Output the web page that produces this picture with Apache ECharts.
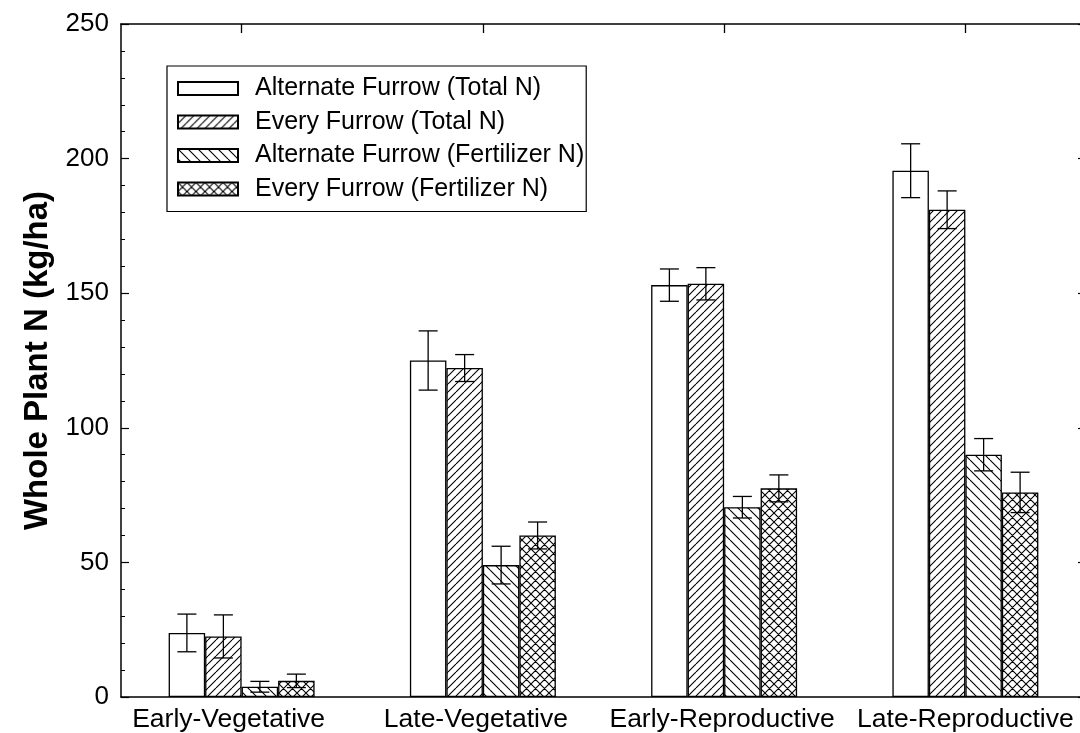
<!DOCTYPE html>
<html>
<head>
<meta charset="utf-8">
<script src="https://cdn.jsdelivr.net/npm/echarts@6/dist/echarts.min.js"></script>
<style>
html,body{margin:0;padding:0;background:#fff;overflow:hidden;}
#chart{width:1090px;height:733px;}
</style>
</head>
<body>
<div id="chart"></div>
<script>
// ---- data ----
const categories = ['Early-Vegetative', 'Late-Vegetative', 'Early-Reproductive', 'Late-Reproductive'];
const seriesNames = ['Alternate Furrow (Total N)', 'Every Furrow (Total N)', 'Alternate Furrow (Fertilizer N)', 'Every Furrow (Fertilizer N)'];
const altTotal = [23.8, 125, 153, 195.5];
const everyTotal = [22.5, 122.2, 153.5, 181];
const altFert = [3.8, 49, 70.5, 90];
const everyFert = [6, 60, 77.5, 76];
const errAltTotal = [7, 11, 6, 10];
const errEveryTotal = [8, 5, 6, 7];
const errAltFert = [2, 7, 4, 6];
const errEveryFert = [2.5, 5, 5, 7.5];
const yTicks = [0, 50, 100, 150, 200, 250];

const values = [altTotal, everyTotal, altFert, everyFert];
const errors = [errAltTotal, errEveryTotal, errAltFert, errEveryFert];

const FONT = "'Liberation Sans', Arial, sans-serif";
const GAP = 0.395;
// small leftward nudges of the category labels (style only)
const labelNudge = [13, 7, 2, 0];

function hatch(size, dirs, lw) {
  const c = document.createElement('canvas');
  c.width = size; c.height = size;
  const g = c.getContext('2d');
  g.fillStyle = '#fff'; g.fillRect(0, 0, size, size);
  g.strokeStyle = '#000'; g.lineWidth = lw;
  g.beginPath();
  dirs.forEach(function (d) {
    [-size, 0, size].forEach(function (o) {
      if (d === '/') { g.moveTo(o, size); g.lineTo(o + size, 0); }
      else { g.moveTo(o, 0); g.lineTo(o + size, size); }
    });
  });
  g.stroke();
  return c;
}

const fills = [
  '#ffffff',
  { image: hatch(8, ['/'], 1.1), repeat: 'repeat' },
  { image: hatch(10, ['\\'], 1.1), repeat: 'repeat' },
  { image: hatch(9, ['/', '\\'], 1.1), repeat: 'repeat' }
];

const barSeries = seriesNames.map(function (name, i) {
  return {
    name: name,
    type: 'bar',
    data: values[i],
    barGap: '0%',
    barCategoryGap: (GAP * 100) + '%',
    itemStyle: { color: fills[i], borderColor: '#000', borderWidth: 1.3 },
    emphasis: { disabled: true },
    z: 2
  };
});

const errData = [];
values.forEach(function (arr, s) {
  arr.forEach(function (v, c) { errData.push([c, v, errors[s][c], s]); });
});

const errSeries = {
  type: 'custom',
  name: 'err',
  data: errData,
  encode: { x: 0, y: 1 },
  z: 5,
  silent: true,
  renderItem: function (params, api) {
    const c = api.value(0), v = api.value(1), e = api.value(2), s = api.value(3);
    const band = api.size([1, 0])[0];
    const bw = band * (1 - GAP) / 4;
    const x = api.coord([c, v])[0] + (s - 1.5) * bw;
    const yt = api.coord([c, v + e])[1];
    const yb = api.coord([c, v - e])[1];
    const hw = 9.5;
    const st = { stroke: '#000', lineWidth: 1.3 };
    return {
      type: 'group',
      children: [
        { type: 'line', shape: { x1: x, y1: yt, x2: x, y2: yb }, style: st },
        { type: 'line', shape: { x1: x - hw, y1: yt, x2: x + hw, y2: yt }, style: st },
        { type: 'line', shape: { x1: x - hw, y1: yb, x2: x + hw, y2: yb }, style: st }
      ]
    };
  }
};

const rich = {};
labelNudge.forEach(function (n, i) {
  rich['c' + i] = { fontFamily: FONT, fontSize: 26.5, color: '#000', padding: [0, 2 * n, 0, 0] };
});

const chart = echarts.init(document.getElementById('chart'), null, { renderer: 'canvas' });
chart.setOption({
  backgroundColor: '#fff',
  animation: false,
  textStyle: { fontFamily: FONT, color: '#000' },
  grid: { left: 121, top: 24, width: 965, height: 674, containLabel: false },
  legend: {
    data: seriesNames,
    orient: 'vertical',
    left: 167, top: 66,
    backgroundColor: '#fff',
    borderColor: '#000', borderWidth: 1.2, borderRadius: 0,
    padding: [10, 2, 10, 10],
    itemWidth: 60, itemHeight: 13, itemGap: 8.5,
    icon: 'rect',
    selectedMode: false,
    textStyle: { fontFamily: FONT, fontSize: 25, color: '#000', padding: [0, 0, 0, 12] }
  },
  xAxis: [
    {
      type: 'category', data: categories, position: 'bottom',
      axisLine: { onZero: false, lineStyle: { color: '#000', width: 1.5 } },
      axisTick: { show: false },
      axisLabel: {
        fontFamily: FONT, fontSize: 26.5, color: '#000', margin: 9, interval: 0,
        formatter: function (v, i) { return '{c' + i + '|' + v + '}'; },
        rich: rich
      },
      splitLine: { show: false }
    },
    {
      type: 'category', data: categories, position: 'top',
      axisLine: { onZero: false, lineStyle: { color: '#000', width: 1.5 } },
      axisTick: { show: true, inside: true, alignWithLabel: true, length: 9, lineStyle: { color: '#000', width: 1.3 } },
      axisLabel: { show: false },
      splitLine: { show: false }
    }
  ],
  yAxis: [
    {
      type: 'value', min: yTicks[0], max: yTicks[yTicks.length - 1], interval: 50,
      name: 'Whole Plant N (kg/ha)', nameLocation: 'middle', nameGap: 66, nameRotate: 90,
      nameTextStyle: { fontFamily: FONT, fontSize: 33, fontWeight: 'bold', color: '#000' },
      axisLine: { show: true, onZero: false, lineStyle: { color: '#000', width: 1.5 } },
      axisTick: { show: true, inside: true, length: 8, lineStyle: { color: '#000', width: 1.2 } },
      minorTick: { show: true, splitNumber: 5, length: 4, lineStyle: { color: '#000', width: 1 } },
      axisLabel: { fontFamily: FONT, fontSize: 26, color: '#000', margin: 12 },
      splitLine: { show: false }
    },
    {
      type: 'value', min: yTicks[0], max: yTicks[yTicks.length - 1], interval: 50, position: 'right',
      axisLine: { show: true, onZero: false, lineStyle: { color: '#000', width: 1.5 } },
      axisTick: { show: true, inside: true, length: 8, lineStyle: { color: '#000', width: 1.2 } },
      minorTick: { show: true, splitNumber: 5, length: 4, lineStyle: { color: '#000', width: 1 } },
      axisLabel: { show: false },
      splitLine: { show: false }
    }
  ],
  series: barSeries.concat([errSeries])
});
</script>
</body>
</html>
